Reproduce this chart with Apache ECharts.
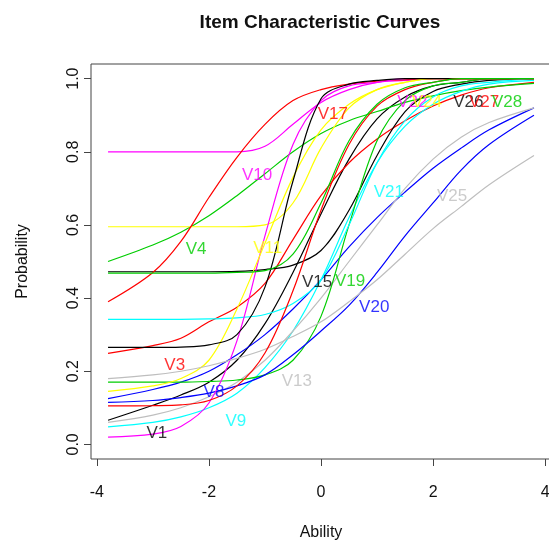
<!DOCTYPE html>
<html>
<head>
<meta charset="utf-8">
<title>Item Characteristic Curves</title>
<script src="https://cdn.jsdelivr.net/npm/echarts@6.0.0/dist/echarts.min.js"></script>
<style>
	html, body { margin: 0; padding: 0; background: #fff; }
	#main { width: 549px; height: 542px; }
</style>
</head>
<body>
<div id="main"></div>
<script>
var ability = [-3.8, -3, -2.5, -2, -1.5, -1, -0.5, 0, 0.5, 1, 1.5, 2, 2.5, 3, 3.8];

var items = ['V1', 'V3', 'V4', 'V8', 'V9', 'V10', 'V11', 'V13', 'V15', 'V17',
	'V19', 'V20', 'V21', 'V22', 'V24', 'V25', 'V26', 'V27', 'V28'];

// probability of each item at the ability points above
var pV1  = [0.066, 0.107, 0.135, 0.17, 0.23, 0.33, 0.47, 0.63, 0.78, 0.89, 0.95, 0.98, 0.99, 1.0, 1.0];
var pV3  = [0.249, 0.27, 0.29, 0.335, 0.375, 0.44, 0.56, 0.68, 0.77, 0.835, 0.885, 0.925, 0.955, 0.975, 0.99];
var pV4  = [0.50, 0.545, 0.58, 0.625, 0.68, 0.74, 0.80, 0.85, 0.885, 0.91, 0.935, 0.953, 0.967, 0.977, 0.987];
var pV8  = [0.125, 0.15, 0.17, 0.20, 0.245, 0.30, 0.37, 0.45, 0.54, 0.62, 0.69, 0.755, 0.81, 0.86, 0.92];
var pV9  = [0.048, 0.06, 0.075, 0.10, 0.14, 0.21, 0.31, 0.45, 0.62, 0.77, 0.87, 0.93, 0.965, 0.985, 0.995];
var pV10 = [0.80, 0.80, 0.80, 0.80, 0.80, 0.815, 0.875, 0.935, 0.97, 0.99, 0.995, 1.0, 1.0, 1.0, 1.0];
var pV11 = [0.595, 0.595, 0.595, 0.595, 0.595, 0.60, 0.66, 0.81, 0.92, 0.97, 0.99, 1.0, 1.0, 1.0, 1.0];
var pV13 = [0.06, 0.08, 0.10, 0.13, 0.17, 0.23, 0.31, 0.40, 0.50, 0.60, 0.70, 0.78, 0.84, 0.88, 0.92];
var pV15 = [0.472, 0.472, 0.472, 0.472, 0.473, 0.478, 0.49, 0.53, 0.64, 0.79, 0.91, 0.965, 0.985, 0.995, 1.0];
var pV17 = [0.39, 0.47, 0.555, 0.675, 0.785, 0.875, 0.94, 0.97, 0.985, 0.993, 0.997, 1.0, 1.0, 1.0, 1.0];
var pV19 = [0.17, 0.17, 0.17, 0.172, 0.176, 0.19, 0.23, 0.35, 0.60, 0.83, 0.94, 0.98, 0.99, 1.0, 1.0];
var pV20 = [0.115, 0.12, 0.128, 0.14, 0.16, 0.19, 0.245, 0.31, 0.38, 0.47, 0.57, 0.66, 0.75, 0.82, 0.90];
var pV21 = [0.342, 0.342, 0.342, 0.343, 0.346, 0.355, 0.385, 0.45, 0.60, 0.77, 0.885, 0.95, 0.98, 0.99, 1.0];
var pV22 = [0.02, 0.028, 0.049, 0.113, 0.283, 0.57, 0.82, 0.94, 0.98, 0.99, 1.0, 1.0, 1.0, 1.0, 1.0];
var pV24 = [0.145, 0.16, 0.18, 0.23, 0.37, 0.55, 0.73, 0.86, 0.93, 0.97, 0.99, 1.0, 1.0, 1.0, 1.0];
var pV25 = [0.18, 0.19, 0.20, 0.215, 0.235, 0.26, 0.295, 0.335, 0.39, 0.45, 0.52, 0.59, 0.65, 0.71, 0.79];
var pV26 = [0.265, 0.265, 0.266, 0.272, 0.30, 0.43, 0.72, 0.945, 0.985, 0.995, 1.0, 1.0, 1.0, 1.0, 1.0];
var pV27 = [0.105, 0.106, 0.108, 0.12, 0.16, 0.25, 0.42, 0.64, 0.82, 0.925, 0.97, 0.99, 1.0, 1.0, 1.0];
var pV28 = [0.468, 0.468, 0.468, 0.468, 0.47, 0.475, 0.52, 0.66, 0.83, 0.93, 0.975, 0.99, 1.0, 1.0, 1.0];

var probs = [pV1, pV3, pV4, pV8, pV9, pV10, pV11, pV13, pV15, pV17,
	pV19, pV20, pV21, pV22, pV24, pV25, pV26, pV27, pV28];

// where each item name is written (ability, probability)
var labelAbility = [-2.93, -2.61, -2.23, -1.91, -1.52, -1.14, -0.95, -0.43, -0.07, 0.21,
	0.52, 0.95, 1.21, 1.63, 1.89, 2.34, 2.63, 2.91, 3.32];
var labelProb = [0.035, 0.221, 0.54, 0.147, 0.068, 0.74, 0.542, 0.177, 0.449, 0.909,
	0.45, 0.381, 0.695, 0.94, 0.94, 0.685, 0.94, 0.94, 0.94];

var xTicks = [-4, -2, 0, 2, 4];
var yTicks = [0, 0.2, 0.4, 0.6, 0.8, 1.0];

// R default palette, recycled over the items
var palette = ['#000000', '#FF0000', '#00CD00', '#0000FF', '#00FFFF', '#FF00FF', '#FFFF00', '#BEBEBE'];

var myChart = echarts.init(document.getElementById('main'));

var series = [];
for (var i = 0; i < items.length; i++) {
	var pts = [];
	for (var j = 0; j < ability.length; j++) {
		pts.push([ability[j], probs[i][j]]);
	}
	series.push({
		name: items[i],
		type: 'line',
		data: pts,
		showSymbol: false,
		smooth: 0.35,
		lineStyle: { color: palette[i % palette.length], width: 1.2 },
		z: 2
	});
}

var labelData = [];
for (var k = 0; k < items.length; k++) {
	labelData.push({
		name: items[k],
		value: [labelAbility[k], labelProb[k]],
		label: { color: palette[k % palette.length] }
	});
}
series.push({
	type: 'scatter',
	data: labelData,
	symbolSize: 0,
	z: 5,
	label: {
		show: true,
		position: 'inside',
		offset: [0, 2],
		formatter: '{b}',
		fontFamily: 'Liberation Sans, Arial, sans-serif',
		fontSize: 17
	}
});

var axisFont = 'Liberation Sans, Arial, sans-serif';

var option = {
	backgroundColor: '#ffffff',
	animation: false,
	title: {
		text: 'Item Characteristic Curves',
		left: 315,
		top: 8,
		textAlign: 'center',
		textStyle: { fontFamily: axisFont, fontWeight: 'bold', fontSize: 19, color: '#111' }
	},
	grid: {
		show: true,
		left: 91,
		top: 64,
		width: 460,
		height: 395,
		outerBoundsMode: 'none',
		containLabel: false,
		borderColor: '#444',
		borderWidth: 1,
		backgroundColor: 'transparent'
	},
	xAxis: {
		type: 'value',
		min: -4.104,
		max: 4.104,
		name: 'Ability',
		nameLocation: 'middle',
		nameGap: 66,
		nameTextStyle: { fontFamily: axisFont, fontSize: 16, color: '#111' },
		axisLine: { show: false, onZero: false },
		splitLine: { show: false },
		axisTick: { show: true, length: 7, customValues: xTicks, lineStyle: { color: '#444' } },
		axisLabel: {
			customValues: xTicks,
			margin: 26,
			fontFamily: axisFont,
			fontSize: 16,
			color: '#111'
		}
	},
	yAxis: {
		type: 'value',
		min: -0.04,
		max: 1.04,
		name: 'Probability',
		nameLocation: 'middle',
		nameRotate: 90,
		nameGap: 60,
		nameTextStyle: { fontFamily: axisFont, fontSize: 16, color: '#111' },
		axisLine: { show: false, onZero: false },
		splitLine: { show: false },
		axisTick: { show: true, length: 7, customValues: yTicks, lineStyle: { color: '#444' } },
		axisLabel: {
			customValues: yTicks,
			rotate: 90,
			margin: 9,
			fontFamily: axisFont,
			fontSize: 16,
			color: '#111',
			formatter: function (v) { return v.toFixed(1); }
		}
	},
	series: series
};
myChart.setOption(option);
</script>
</body>
</html>
